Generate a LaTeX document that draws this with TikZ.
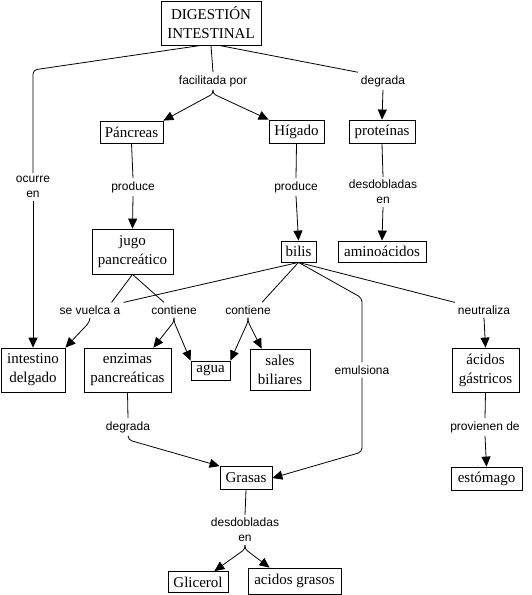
\documentclass[tikz,border=0pt]{standalone}
\usepackage{fontspec}
\setmainfont{Liberation Serif}
\newfontfamily\phrasefont{Liberation Sans}
\usetikzlibrary{arrows.meta}

\begin{document}
\begin{tikzpicture}[x=1pt,y=-1pt,>=Latex]
\tikzset{
  box/.style={draw=black,line width=0.8pt,align=center,inner sep=1pt,font=\fontsize{15}{19}\selectfont},
  phrase/.style={align=center,inner sep=3pt,font=\phrasefont\fontsize{12}{15}\selectfont},
  con/.style={line width=0.8pt,draw=black},
  arr/.style={con,-{Triangle[length=10pt,width=9pt]}}
}
\useasboundingbox (0,0) rectangle (531,595);

% concepts
\node[box,minimum width=100,minimum height=44] (dig) at (211,23) {DIGESTIÓN\\INTESTINAL};
\node[box,minimum width=63,minimum height=22] (panc) at (131.5,132) {Páncreas};
\node[box,minimum width=55,minimum height=23] (hig) at (296.5,131.5) {Hígado};
\node[box,minimum width=66,minimum height=23] (prot) at (382,131.5) {proteínas};
\node[box,minimum width=81,minimum height=45] (jugo) at (132.5,251.5) {jugo\\pancreático};
\node[box,minimum width=35,minimum height=21] (bilis) at (298.5,251.5) {bilis};
\node[box,minimum width=88,minimum height=21] (amino) at (382,251.5) {aminoácidos};
\node[box,minimum width=64,minimum height=44] (intes) at (33,370) {intestino\\delgado};
\node[box,minimum width=87,minimum height=44] (enz) at (127.5,370) {enzimas\\pancreáticas};
\node[box,minimum width=39,minimum height=19] (agua) at (210.5,370.5) {agua};
\node[box,minimum width=60,minimum height=41] (sales) at (280,369.5) {sales\\biliares};
\node[box,minimum width=67,minimum height=44] (acg) at (485.5,370) {ácidos\\gástricos};
\node[box,minimum width=52,minimum height=23] (grasas) at (246,478) {Grasas};
\node[box,minimum width=71,minimum height=23] (esto) at (486.5,478.5) {estómago};
\node[box,minimum width=60,minimum height=21] (glic) at (198,582) {Glicerol};
\node[box,minimum width=93,minimum height=26] (acgr) at (294.5,581) {acidos grasos};

% linking phrases
\node[phrase] (fac) at (213,81) {facilitada por};
\node[phrase] (deg1) at (383,81) {degrada};
\node[phrase] (ocu) at (33,187) {ocurre\\en};
\node[phrase] (prod1) at (133,187) {produce};
\node[phrase] (prod2) at (296,187) {produce};
\node[phrase] (desd1) at (383,192) {desdobladas\\en};
\node[phrase] (vuel) at (90,310) {se vuelca a};
\node[phrase] (cont1) at (174,310) {contiene};
\node[phrase] (cont2) at (248,310) {contiene};
\node[phrase] (neut) at (484,310) {neutraliza};
\node[phrase] (emul) at (362,370) {emulsiona};
\node[phrase] (deg2) at (128,427) {degrada};
\node[phrase] (prov) at (485,427) {provienen de};
\node[phrase] (desd2) at (245,530) {desdobladas\\en};

% connectors
\draw[con,rounded corners=4] ([xshift=-10]dig.south) -- (33,70) -- (ocu.north);
\draw[arr] (ocu.south) -- (intes.north);
\draw[con] (dig.south) -- (fac.north);
\draw[con] ([xshift=8]dig.south) -- (deg1.north west);
\draw[arr,rounded corners=3] (fac.south) -- ++(0,4) -- (panc.north east);
\draw[arr,rounded corners=3] (fac.south) -- ++(0,4) -- (hig.north west);
\draw[arr] (deg1.south) -- (prot.north);
\draw[con] (panc.south) -- (prod1.north);
\draw[arr] (prod1.south) -- (jugo.north);
\draw[con] (hig.south) -- (prod2.north);
\draw[arr] (prod2.south) -- (bilis.north);
\draw[con] (prot.south) -- (desd1.north);
\draw[arr] (desd1.south) -- (amino.north);

\draw[con] (jugo.south) -- ([xshift=-12]vuel.north east);
\draw[con] (jugo.south) -- ([xshift=-10]cont1.north);
\draw[con] (bilis.south) -- (vuel.north east);
\draw[con] (bilis.south) -- ([xshift=14]cont2.north);
\draw[con,rounded corners=4] (bilis.south) -- (362,298) -- (emul.north);
\draw[con] (bilis.south) -- (neut.north west);

\draw[arr,rounded corners=4] (vuel.south) -- ++(0,4) -- (intes.north east);
\draw[arr,rounded corners=3] (cont1.south) -- ++(0,4) -- ([xshift=-18]enz.north east);
\draw[arr,rounded corners=3] (cont1.south) -- ++(0,4) -- (agua.north west);
\draw[arr,rounded corners=3] (cont2.south) -- ++(0,4) -- (agua.north east);
\draw[arr,rounded corners=3] (cont2.south) -- ++(0,4) -- ([xshift=12]sales.north west);
\draw[arr] (neut.south) -- (acg.north);

\draw[con] (enz.south) -- (deg2.north);
\draw[arr,rounded corners=4] (deg2.south) -- ++(0,4) -- (grasas.north west);
\draw[arr,rounded corners=4] (emul.south) -- (362,452) -- (grasas.east);
\draw[con] (acg.south) -- (prov.north);
\draw[arr] (prov.south) -- (esto.north);

\draw[con] (grasas.south) -- (desd2.north);
\draw[arr,rounded corners=3] (desd2.south) -- ++(0,4) -- ([xshift=-14]glic.north east);
\draw[arr,rounded corners=3] (desd2.south) -- ++(0,4) -- ([xshift=22]acgr.north west);
\end{tikzpicture}
\end{document}
